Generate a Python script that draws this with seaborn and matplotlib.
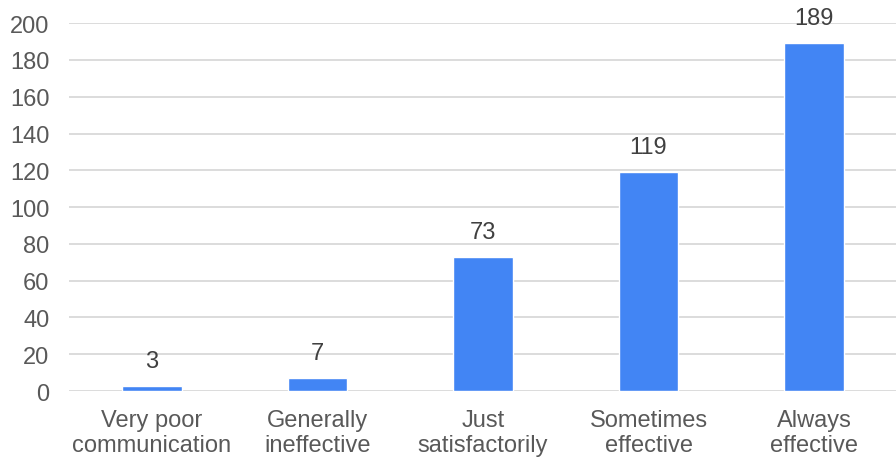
import matplotlib
matplotlib.use("Agg")
import matplotlib.pyplot as plt
import seaborn as sns
import pandas as pd

categories = ["Very poor\ncommunication", "Generally\nineffective", "Just\nsatisfactorily",
              "Sometimes\neffective", "Always\neffective"]
counts = [3, 7, 73, 119, 189]
yticks = [0, 20, 40, 60, 80, 100, 120, 140, 160, 180, 200]

sns.set_theme(style="white")
plt.rcParams['font.family'] = ['Liberation Sans', 'DejaVu Sans']

df = pd.DataFrame({"category": categories, "count": counts})

fig = plt.figure(figsize=(8.96, 4.64), dpi=100)
ax = fig.add_axes([0.077, 0.155, 0.924, 0.793])

sns.barplot(data=df, x="category", y="count", color="#4285F4", width=0.36,
            saturation=1, ax=ax, zorder=3)

ax.set_ylim(0, 200)
ax.set_yticks(yticks)
ax.yaxis.grid(True, color="#d9d9d9", linewidth=1.3, zorder=0)
ax.set_axisbelow(True)
for s in ax.spines.values():
    s.set_visible(False)
ax.set_xlabel("")
ax.set_ylabel("")
ax.tick_params(axis="y", length=0, pad=14, labelsize=17, labelcolor="#595959")
ax.tick_params(axis="x", length=0, pad=13, labelsize=17, labelcolor="#595959")
for t in ax.get_xticklabels():
    t.set_linespacing(1.15)

for p, v in zip(ax.patches, counts):
    ax.annotate(str(v), (p.get_x() + p.get_width() / 2, p.get_height()),
                xytext=(0, 10), textcoords="offset points", ha="center", va="bottom",
                fontsize=17, color="#404040", annotation_clip=False)

fig.savefig("out.png", dpi=100)
